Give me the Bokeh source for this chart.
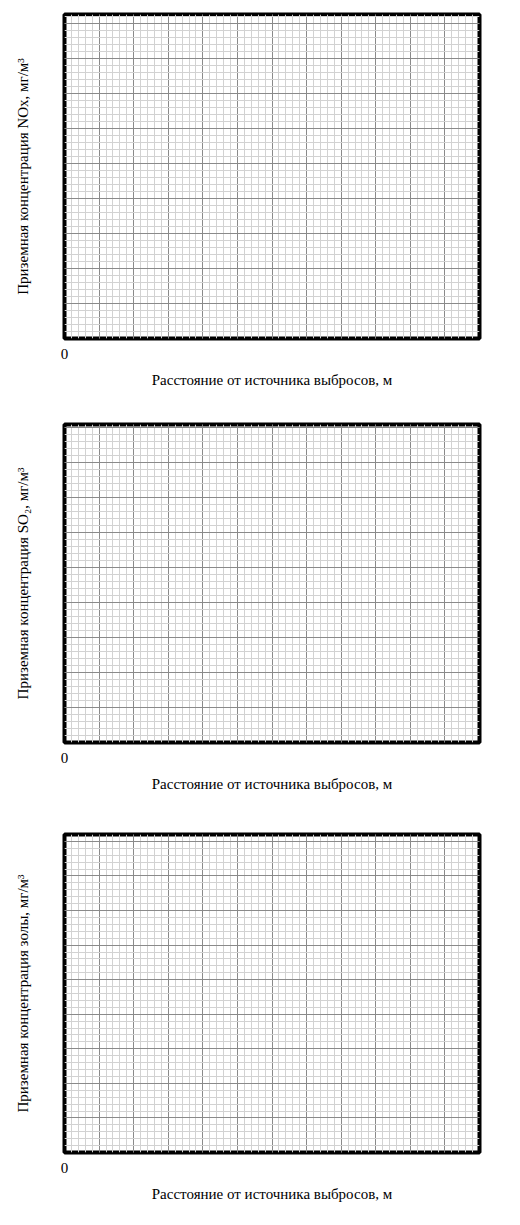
from bokeh.plotting import figure
from bokeh.layouts import column
from bokeh.models import SingleIntervalTicker, FixedTicker
from bokeh.embed import file_html
from bokeh.resources import INLINE

# chart data: empty graph-paper panels
x_max = 12
y_maxes = [9.25, 9.1, 9.2]
x_tick_labels = [0]
y_labels = ["Приземная концентрация NOx, мг/м³",
            "Приземная концентрация SO₂, мг/м³",
            "Приземная концентрация золы, мг/м³"]
x_label = "Расстояние от источника выбросов, м"

frame_heights = [324, 318, 322]
bottoms = [72, 78, 48]

plots = []
for ymax, ylab, fh, bot in zip(y_maxes, y_labels, frame_heights, bottoms):
    p = figure(width=489, height=14 + fh + bot, x_range=(0, x_max), y_range=(0, ymax),
               output_backend="svg", toolbar_location=None,
               min_border_left=54, min_border_right=10, min_border_top=14, min_border_bottom=bot)
    p.outline_line_color = "black"
    p.outline_line_width = 4
    for g in (p.xgrid, p.ygrid):
        g.ticker = SingleIntervalTicker(interval=1, num_minor_ticks=5)
        g.grid_line_color = "#8a8a8a"
        g.grid_line_width = 1
        g.minor_grid_line_color = "#d2d2d2"
        g.minor_grid_line_width = 1
    p.xaxis.ticker = FixedTicker(ticks=x_tick_labels)
    p.yaxis.ticker = FixedTicker(ticks=[])
    for ax in (p.xaxis, p.yaxis):
        ax.axis_line_color = None
        ax.major_tick_line_color = None
        ax.minor_tick_line_color = None
        ax.major_label_text_font = "Liberation Serif"
        ax.major_label_text_font_size = "15px"
        ax.axis_label_text_font = "Liberation Serif"
        ax.axis_label_text_font_size = "15px"
        ax.axis_label_text_font_style = "normal"
        ax.axis_label_text_color = "black"
        ax.major_label_text_color = "black"
    p.xaxis.major_label_standoff = 4
    p.xaxis.axis_label = x_label
    p.xaxis.axis_label_standoff = 10
    p.yaxis.axis_label = ylab
    p.yaxis.axis_label_standoff = 34
    p.yaxis.fixed_location = None
    p.min_border_left = 64
    plots.append(p)

layout = column(*plots, spacing=0)
open("out.html", "w").write(file_html(layout, INLINE))
